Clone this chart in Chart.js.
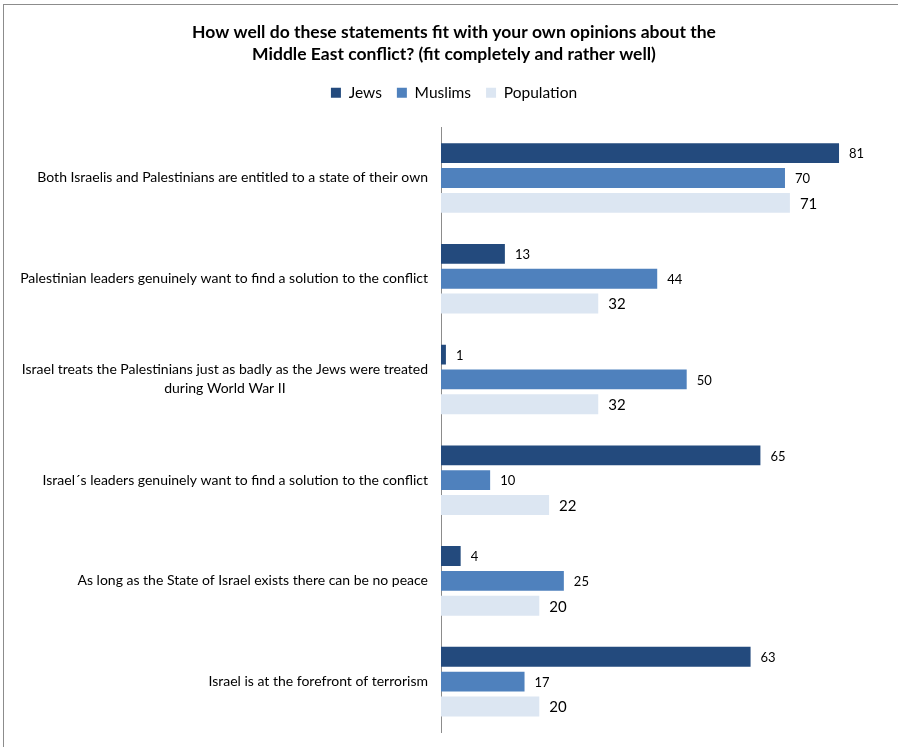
<!DOCTYPE html>
<html>
<head>
    <title>Middle East conflict opinions</title>
    <script src="https://cdn.jsdelivr.net/npm/chart.js"></script>
    <style>
        body { margin: 0; overflow: hidden; background: #fff; }
        #frame {
            position: absolute; left: 3px; top: 4px;
            width: 920px; height: 760px;
            border-left: 1px solid #8c8c8c; border-top: 1px solid #8c8c8c;
        }
        #wrap { position: absolute; left: 0; top: 0; width: 898px; height: 747px; }
    </style>
</head>
<body>
    <div id="frame"></div>
    <div id="wrap"><canvas id="chart" width="898" height="747"></canvas></div>
    <script>
        const statements = [
            ['Both Israelis and Palestinians are entitled to a state of their own'],
            ['Palestinian leaders genuinely want to find a solution to the conflict'],
            ['Israel treats the Palestinians just as badly as the Jews were treated', 'during World War II'],
            ['Israel\u00b4s leaders genuinely want to find a solution to the conflict'],
            ['As long as the State of Israel exists there can be no peace'],
            ['Israel is at the forefront of terrorism']
        ];
        const jews = [81, 13, 1, 65, 4, 63];
        const muslims = [70, 44, 50, 10, 25, 17];
        const population = [71, 32, 32, 22, 20, 20];

        const FONT = 'Lato, "Open Sans", sans-serif';

        // value labels to the right of each bar
        const barValueLabels = {
            id: 'barValueLabels',
            afterDatasetsDraw(chart) {
                const ctx = chart.ctx;
                chart.data.datasets.forEach((ds, i) => {
                    const meta = chart.getDatasetMeta(i);
                    ctx.save();
                    ctx.font = (i === 2 ? '15px ' : '13px ') + FONT;
                    ctx.fillStyle = '#000';
                    ctx.textBaseline = 'middle';
                    ctx.textAlign = 'left';
                    meta.data.forEach((bar, j) => {
                        ctx.fillText(ds.data[j], bar.x + 10, bar.y + 1);
                    });
                    ctx.restore();
                });
            }
        };

        // category labels: right aligned block, lines centred within the block
        const categoryLabels = {
            id: 'categoryLabels',
            afterDraw(chart) {
                const ctx = chart.ctx;
                const y = chart.scales.y;
                ctx.save();
                ctx.font = '14px ' + FONT;
                ctx.fillStyle = '#000';
                ctx.textBaseline = 'middle';
                ctx.textAlign = 'center';
                const lh = 19;
                statements.forEach((lines, i) => {
                    const cy = y.getPixelForTick(i);
                    const w = Math.max(...lines.map(l => ctx.measureText(l).width));
                    const cx = y.right - 13 - w / 2;
                    lines.forEach((l, k) => {
                        ctx.fillText(l, cx, cy + (k - (lines.length - 1) / 2) * lh);
                    });
                });
                ctx.restore();
            }
        };

        const legendGap = {
            id: 'legendGap',
            beforeInit(chart) {
                const fit = chart.legend.fit;
                chart.legend.fit = function () {
                    fit.bind(chart.legend)();
                    this.height += 17;
                };
            }
        };

        new Chart(document.getElementById('chart'), {
            type: 'bar',
            data: {
                labels: statements,
                datasets: [
                    { label: 'Jews', data: jews, backgroundColor: '#234a7d' },
                    { label: 'Muslims', data: muslims, backgroundColor: '#4f81bd' },
                    { label: 'Population', data: population, backgroundColor: '#dce6f2' }
                ]
            },
            options: {
                indexAxis: 'y',
                responsive: false,
                animation: false,
                layout: { padding: { left: 10, right: 0, top: 0, bottom: 15 } },
                datasets: {
                    bar: { barPercentage: 0.8, categoryPercentage: 0.74 }
                },
                scales: {
                    x: { display: false, min: 0, max: 93 },
                    y: {
                        grid: { display: false },
                        border: { color: '#8c8c8c', width: 1 },
                        ticks: { display: false },
                        afterFit(scale) { scale.width = 431; }
                    }
                },
                plugins: {
                    title: {
                        display: true,
                        text: ['How well do these statements fit with your own opinions about the',
                               'Middle East conflict? (fit completely and rather well)'],
                        color: '#000',
                        font: { family: FONT, size: 17.5, weight: 'bold', lineHeight: 1.26 },
                        padding: { top: 21, bottom: 5 }
                    },
                    legend: {
                        labels: {
                            boxWidth: 10, boxHeight: 10, padding: 15,
                            color: '#000',
                            font: { family: FONT, size: 15.5 }
                        }
                    },
                    tooltip: { enabled: false }
                }
            },
            plugins: [legendGap, barValueLabels, categoryLabels]
        });
    </script>
</body>
</html>
